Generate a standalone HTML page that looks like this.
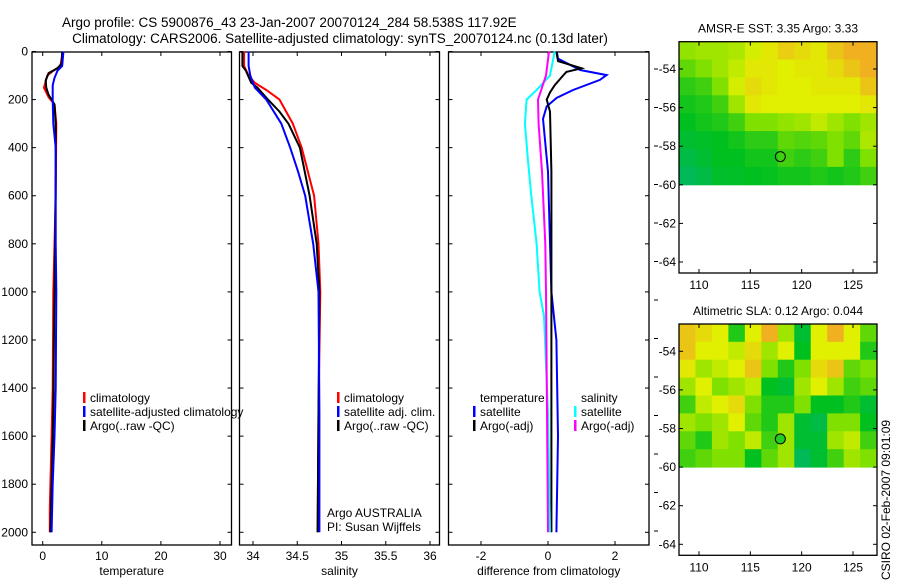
<!DOCTYPE html>
<html><head><meta charset="utf-8"><style>
body{margin:0;background:#fff;width:900px;height:580px;overflow:hidden}
svg text{font-family:"Liberation Sans",sans-serif;fill:#000}
</style></head><body>
<svg id="c" width="900" height="580" xmlns="http://www.w3.org/2000/svg">
<text x="62" y="27" font-size="13.5">Argo profile: CS 5900876_43 23-Jan-2007 20070124_284 58.538S 117.92E</text>
<text x="340" y="43" font-size="13.5" text-anchor="middle">Climatology: CARS2006. Satellite-adjusted climatology: synTS_20070124.nc (0.13d later)</text>
<text x="0" y="0" font-size="12" transform="translate(890,580) rotate(-90)">CSIRO 02-Feb-2007 09:01:09</text>
</svg>
<script>
// ---------- data ----------
const depthTicks=[0,200,400,600,800,1000,1200,1400,1600,1800,2000];
const tempTicks=[0,10,20,30];
const salTicks=[34,34.5,35,35.5,36];
const salTickLabels=["34","34.5","35","35.5","36"];
const diffTicks=[-2,0,2];
const tClimDepth=[0,60,80,100,150,190,220,300,600,1000,1400,1600,1900,2000];
const tClimVal=[3.4,3.0,1.8,0.8,0.2,1.0,2.0,2.3,2.2,1.8,1.7,1.5,1.2,1.2];
const tSatDepth=[0,60,80,110,140,200,300,400,800,1000,1400,1600,1800,2000];
const tSatVal=[3.5,3.3,2.5,2.0,1.7,1.7,1.8,2.2,2.2,2.3,2.2,2.0,1.7,1.5];
const tArgoDepth=[0,50,70,90,120,150,180,200,220,300,500,800,1000,1200,1500,1800,2000];
const tArgoVal=[3.3,3.2,2.5,1.0,0.5,0.6,1.0,1.5,2.0,2.2,2.2,2.1,2.0,1.9,1.8,1.5,1.3];
const sClimDepth=[0,60,100,130,160,200,300,400,500,600,800,1000,1500,2000];
const sClimVal=[33.9,33.9,33.95,34.02,34.15,34.3,34.45,34.55,34.62,34.69,34.74,34.76,34.74,34.73];
const sSatDepth=[0,60,100,130,150,200,300,400,500,600,800,1000,1500,2000];
const sSatVal=[33.95,33.95,33.97,34.0,34.02,34.15,34.32,34.42,34.51,34.59,34.68,34.74,34.75,34.75];
const sArgoDepth=[0,60,80,130,150,200,250,300,400,600,800,1000,1500,2000];
const sArgoVal=[33.88,33.88,33.92,33.98,34.05,34.17,34.3,34.4,34.53,34.64,34.72,34.75,34.74,34.73];
const dTSatDepth=[0,30,77,98,118,160,193,228,280,500,1000,1200,1600,2000];
const dTSatVal=[0.26,0.3,0.96,1.75,1.55,0.75,0.26,-0.04,-0.15,0.0,0.1,0.25,0.3,0.25];
const dTArgoDepth=[0,40,70,85,100,140,170,200,250,500,1000,1500,2000];
const dTArgoVal=[0.25,0.3,1.0,0.55,0.45,0.2,0.06,-0.04,0.06,0.1,0.1,0.1,0.1];
const dSSatDepth=[0,100,160,200,300,450,600,800,1000,1100,1500,2000];
const dSSatVal=[0.2,0.06,-0.34,-0.64,-0.69,-0.6,-0.5,-0.34,-0.25,-0.12,0.0,0.06];
const dSArgoDepth=[0,100,200,300,500,800,1000,1500,2000];
const dSArgoVal=[0.03,-0.06,-0.3,-0.28,-0.18,-0.08,-0.06,-0.03,0.0];
const mapLonTicks=[110,115,120,125];
const mapLatTicks=[54,56,58,60,62,64];
const sstGrid=[
[.58,.6,.6,.62,.68,.72,.78,.75,.72,.8,.85,.85],
[.5,.55,.6,.65,.72,.72,.7,.72,.72,.75,.8,.85],
[.42,.45,.55,.68,.75,.72,.7,.7,.72,.72,.72,.8],
[.38,.4,.45,.6,.72,.7,.7,.7,.7,.7,.7,.72],
[.35,.38,.4,.45,.55,.55,.58,.6,.65,.6,.55,.6],
[.3,.33,.35,.38,.42,.42,.5,.48,.5,.55,.5,.62],
[.25,.3,.35,.35,.38,.38,.45,.42,.45,.55,.42,.55],
[.2,.25,.32,.33,.35,.36,.38,.38,.4,.38,.4,.45]];
const slaGrid=[
[.8,.75,.7,.4,.7,.85,.6,.3,.7,.85,.7,.5],
[.8,.7,.7,.65,.75,.6,.7,.35,.7,.7,.7,.4],
[.72,.6,.65,.7,.8,.55,.4,.55,.75,.8,.5,.55],
[.6,.7,.55,.6,.65,.35,.3,.6,.7,.6,.45,.5],
[.45,.65,.7,.75,.55,.4,.4,.55,.35,.35,.4,.3],
[.6,.55,.6,.7,.5,.4,.6,.3,.25,.55,.55,.35],
[.5,.4,.6,.55,.65,.45,.6,.3,.3,.6,.65,.45],
[.45,.5,.55,.55,.35,.5,.6,.2,.3,.45,.6,.55]];
const floatLon=117.92, floatLat=58.538;

// ---------- helpers ----------
const NS="http://www.w3.org/2000/svg";
const svg=document.getElementById('c');
function mk(tag,attrs,parent){const e=document.createElementNS(NS,tag);for(const k in attrs)e.setAttribute(k,attrs[k]);(parent||svg).appendChild(e);return e;}
const TOP=52,BOT=545;
const yD=d=>51.5+d*0.2404;
function linScale(v0,p0,v1,p1){return v=>p0+(v-v0)*(p1-p0)/(v1-v0);}

function panel(name,x0,x1,xs,ticks,labels,xlabel,showY){
  const g=mk('g',{});
  
  
  const r=mk('rect',{x:x0,y:TOP,width:x1-x0,height:BOT-TOP,fill:'none',stroke:'#000','stroke-width':1.3},g);
  
  
  ticks.forEach((t,i)=>{const x=xs(t);
    mk('line',{x1:x,x2:x,y1:BOT,y2:BOT-4,stroke:'#000'},g);
    mk('line',{x1:x,x2:x,y1:TOP,y2:TOP+4,stroke:'#000'},g);
    const tx=mk('text',{x:x,y:BOT+15,'font-size':12,'text-anchor':'middle'},g);tx.textContent=labels[i];
    
    
  });
  depthTicks.forEach(d=>{const y=yD(d);
    mk('line',{x1:x0,x2:x0+4,y1:y,y2:y,stroke:'#000'},g);
    mk('line',{x1:x1,x2:x1-4,y1:y,y2:y,stroke:'#000'},g);
    if(showY){const tx=mk('text',{x:28,y:y+4,'font-size':12,'text-anchor':'end'},g);tx.textContent=d;
      
      }
  });
  const xl=mk('text',{x:(x0+x1)/2,y:575,'font-size':12,'text-anchor':'middle'},g);xl.textContent=xlabel;
  
  
  return g;
}
function series(g,name,depths,vals,xs,color){
  const pts=depths.map((d,i)=>xs(vals[i]).toFixed(1)+','+yD(d).toFixed(1)).join(' ');
  const p=mk('polyline',{points:pts,fill:'none',stroke:color,'stroke-width':2},g);
  
  
}
function legend(g,x,y,items){
  items.forEach((it,i)=>{
    const yy=y+i*14;
    if(it[1]){const m=mk('rect',{x:x,y:yy-10,width:2.5,height:11,fill:it[1]},g);
      
      }
    const t=mk('text',{x:x+7,y:yy,'font-size':12},g);t.textContent=it[0];
    
    
  });
}

// ---------- temperature ----------
const xT=linScale(0,42.7,30,220);
const g1=panel('temperature-panel',32,231.5,xT,tempTicks,tempTicks.map(String),'temperature',true);
series(g1,'temp-climatology-line',tClimDepth,tClimVal,xT,'#f00');
series(g1,'temp-argo-line',tArgoDepth,tArgoVal,xT,'#000');
series(g1,'temp-satellite-line',tSatDepth,tSatVal,xT,'#00f');
legend(g1,83,402,[['climatology','#f00'],['satellite-adjusted climatology','#00f'],['Argo(..raw -QC)','#000']]);

// ---------- salinity ----------
const xS=linScale(34,253,36,430);
const g2=panel('salinity-panel',239.5,439.5,xS,salTicks,salTickLabels,'salinity',false);
series(g2,'sal-climatology-line',sClimDepth,sClimVal,xS,'#f00');
series(g2,'sal-argo-line',sArgoDepth,sArgoVal,xS,'#000');
series(g2,'sal-satellite-line',sSatDepth,sSatVal,xS,'#00f');
legend(g2,337,402,[['climatology','#f00'],['satellite adj. clim.','#00f'],['Argo(..raw -QC)','#000']]);
legend(g2,320,517,[['Argo AUSTRALIA',null],['PI: Susan Wijffels',null]]);

// ---------- difference ----------
const xDf=linScale(-2,481,2,615);
const g3=panel('difference-panel',448.5,649,xDf,diffTicks,diffTicks.map(String),'difference from climatology',false);
series(g3,'diff-temp-satellite-line',dTSatDepth,dTSatVal,xDf,'#00f');
series(g3,'diff-temp-argo-line',dTArgoDepth,dTArgoVal,xDf,'#000');
series(g3,'diff-sal-satellite-line',dSSatDepth,dSSatVal,xDf,'#0ff');
series(g3,'diff-sal-argo-line',dSArgoDepth,dSArgoVal,xDf,'#f0f');
legend(g3,473,402,[['temperature',null],['satellite','#00f'],['Argo(-adj)','#000']]);
legend(g3,574,402,[['salinity',null],['satellite','#0ff'],['Argo(-adj)','#f0f']]);
for(let y=69;y<548;y+=38.5){mk('line',{x1:654,x2:658,y1:y,y2:y,stroke:'#000'});}

// ---------- maps ----------
const cstops=[[0,[0,176,160]],[0.35,[0,192,32]],[0.55,[128,224,0]],[0.7,[224,240,0]],[0.85,[240,176,32]],[1,[224,128,0]]];
function cmap(v){for(let i=1;i<cstops.length;i++){if(v<=cstops[i][0]){const a=cstops[i-1],b=cstops[i];const f=(v-a[0])/(b[0]-a[0]);
  return 'rgb('+a[1].map((c,k)=>Math.round(c+(b[1][k]-c)*f)).join(',')+')';}}return 'rgb(224,128,0)';}
function drawMap(name,top,grid,title,filled){
  const g=mk('g',{});
  
  
  const L=679,R=877,B=top+231.3;
  const xL=linScale(110,699,125,853), yL=linScale(54,top+27.3,64,top+220.3);
  const rows=grid.length, cols=grid[0].length;
  const lon0=108.05,lon1=127.3,lat0=52.58,lat1=60;
  grid.forEach((row,r)=>row.forEach((v,c)=>{
    const xa=xL(lon0+(lon1-lon0)*c/cols), xb=xL(lon0+(lon1-lon0)*(c+1)/cols);
    const ya=yL(lat0+(lat1-lat0)*r/rows), yb=yL(lat0+(lat1-lat0)*(r+1)/rows);
    const cell=mk('rect',{x:xa,y:ya,width:xb-xa+0.5,height:yb-ya+0.5,fill:cmap(v)},g);
    
    
  }));
  const fr=mk('rect',{x:L,y:top,width:R-L,height:B-top,fill:'none',stroke:'#000','stroke-width':1.3},g);
  
  
  mapLonTicks.forEach(t=>{const x=xL(t);
    mk('line',{x1:x,x2:x,y1:B,y2:B-4,stroke:'#000'},g);mk('line',{x1:x,x2:x,y1:top,y2:top+4,stroke:'#000'},g);
    const tx=mk('text',{x:x,y:B+16,'font-size':12,'text-anchor':'middle'},g);tx.textContent=t;
    
    });
  mapLatTicks.forEach(t=>{const y=yL(t);
    mk('line',{x1:L,x2:L+4,y1:y,y2:y,stroke:'#000'},g);mk('line',{x1:R,x2:R-4,y1:y,y2:y,stroke:'#000'},g);
    const tx=mk('text',{x:676,y:y+4,'font-size':12,'text-anchor':'end'},g);tx.textContent='-'+t;
    
    });
  const ti=mk('text',{x:778,y:top-9,'font-size':12,'text-anchor':'middle'},g);ti.textContent=title;
  
  
  const ci=mk('circle',{cx:xL(floatLon),cy:yL(floatLat),r:5,fill:filled?'#2c2':'none',stroke:'#000','stroke-width':1},g);
  
  
}
drawMap('sst-map',41.7,sstGrid,'AMSR-E SST: 3.35 Argo: 3.33',false);
drawMap('sla-map',324,slaGrid,'Altimetric SLA: 0.12 Argo: 0.044',true);
</script>
</body></html>
